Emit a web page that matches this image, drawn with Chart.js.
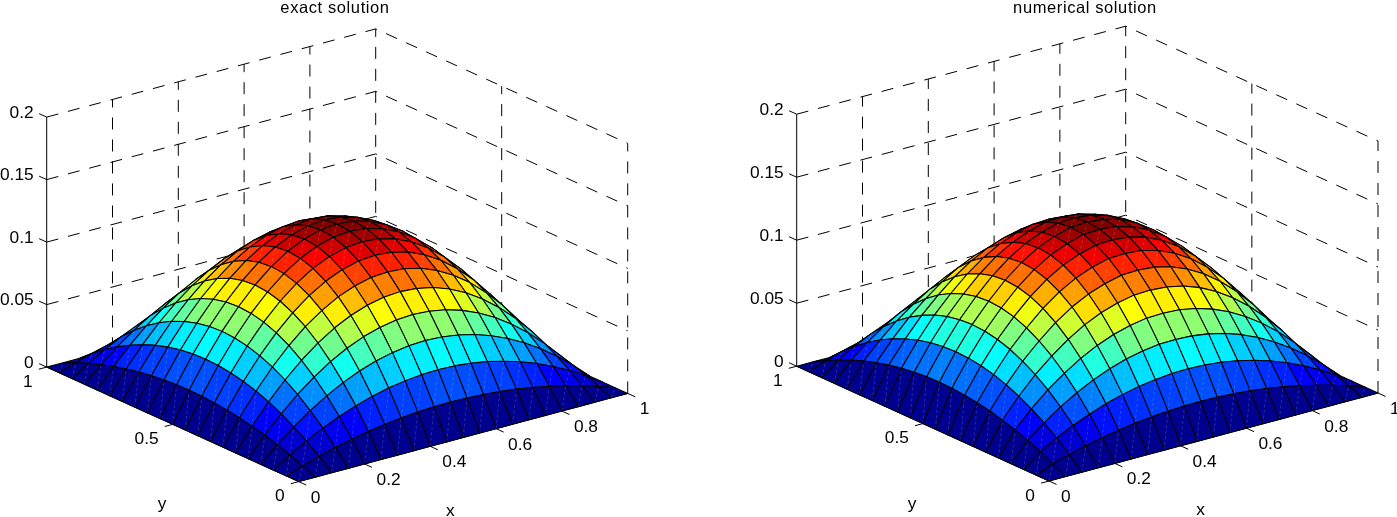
<!DOCTYPE html>
<html><head><meta charset="utf-8">
<script src="https://cdn.jsdelivr.net/npm/chart.js@4"></script>
<style>html,body{margin:0;padding:0;background:#fff;overflow:hidden}canvas{position:absolute;top:0}</style>
</head><body>
<canvas id="left" width="698" height="517" style="left:0"></canvas>
<canvas id="right" width="699" height="517" style="left:698px"></canvas>
<script>
const gridX=[0,.05,.1,.15,.2,.25,.3,.35,.4,.45,.5,.55,.6,.65,.7,.75,.8,.85,.9,.95,1];
const gridY=[0,.05,.1,.15,.2,.25,.3,.35,.4,.45,.5,.55,.6,.65,.7,.75,.8,.85,.9,.95,1];
const zTicks=[0,.05,.1,.15,.2];
const xTicks=[0,.2,.4,.6,.8,1];
const yTicks=[0,.5,1];
const zExact=[
[0,0,0,0,0,0,0,0,0,0,0,0,0,0,0,0,0,0,0,0,0],
[0,.0045,.0086,.0121,.0152,.0178,.0200,.0216,.0228,.0235,.0238,.0235,.0228,.0216,.0200,.0178,.0152,.0121,.0086,.0045,0],
[0,.0086,.0162,.0230,.0288,.0338,.0378,.0410,.0432,.0446,.0450,.0446,.0432,.0410,.0378,.0338,.0288,.0230,.0162,.0086,0],
[0,.0121,.0230,.0325,.0408,.0478,.0536,.0580,.0612,.0631,.0638,.0631,.0612,.0580,.0536,.0478,.0408,.0325,.0230,.0121,0],
[0,.0152,.0288,.0408,.0512,.0600,.0672,.0728,.0768,.0792,.0800,.0792,.0768,.0728,.0672,.0600,.0512,.0408,.0288,.0152,0],
[0,.0178,.0338,.0478,.0600,.0703,.0788,.0853,.0900,.0928,.0938,.0928,.0900,.0853,.0788,.0703,.0600,.0478,.0338,.0178,0],
[0,.0200,.0378,.0536,.0672,.0788,.0882,.0956,.1008,.1040,.1050,.1040,.1008,.0956,.0882,.0788,.0672,.0536,.0378,.0200,0],
[0,.0216,.0410,.0580,.0728,.0853,.0956,.1035,.1092,.1126,.1138,.1126,.1092,.1035,.0956,.0853,.0728,.0580,.0410,.0216,0],
[0,.0228,.0432,.0612,.0768,.0900,.1008,.1092,.1152,.1188,.1200,.1188,.1152,.1092,.1008,.0900,.0768,.0612,.0432,.0228,0],
[0,.0235,.0446,.0631,.0792,.0928,.1040,.1126,.1188,.1225,.1238,.1225,.1188,.1126,.1040,.0928,.0792,.0631,.0446,.0235,0],
[0,.0238,.0450,.0638,.0800,.0938,.1050,.1138,.1200,.1238,.1250,.1238,.1200,.1138,.1050,.0938,.0800,.0638,.0450,.0238,0],
[0,.0235,.0446,.0631,.0792,.0928,.1040,.1126,.1188,.1225,.1238,.1225,.1188,.1126,.1040,.0928,.0792,.0631,.0446,.0235,0],
[0,.0228,.0432,.0612,.0768,.0900,.1008,.1092,.1152,.1188,.1200,.1188,.1152,.1092,.1008,.0900,.0768,.0612,.0432,.0228,0],
[0,.0216,.0410,.0580,.0728,.0853,.0956,.1035,.1092,.1126,.1138,.1126,.1092,.1035,.0956,.0853,.0728,.0580,.0410,.0216,0],
[0,.0200,.0378,.0536,.0672,.0788,.0882,.0956,.1008,.1040,.1050,.1040,.1008,.0956,.0882,.0788,.0672,.0536,.0378,.0200,0],
[0,.0178,.0338,.0478,.0600,.0703,.0788,.0853,.0900,.0928,.0938,.0928,.0900,.0853,.0788,.0703,.0600,.0478,.0338,.0178,0],
[0,.0152,.0288,.0408,.0512,.0600,.0672,.0728,.0768,.0792,.0800,.0792,.0768,.0728,.0672,.0600,.0512,.0408,.0288,.0152,0],
[0,.0121,.0230,.0325,.0408,.0478,.0536,.0580,.0612,.0631,.0638,.0631,.0612,.0580,.0536,.0478,.0408,.0325,.0230,.0121,0],
[0,.0086,.0162,.0230,.0288,.0338,.0378,.0410,.0432,.0446,.0450,.0446,.0432,.0410,.0378,.0338,.0288,.0230,.0162,.0086,0],
[0,.0045,.0086,.0121,.0152,.0178,.0200,.0216,.0228,.0235,.0238,.0235,.0228,.0216,.0200,.0178,.0152,.0121,.0086,.0045,0],
[0,0,0,0,0,0,0,0,0,0,0,0,0,0,0,0,0,0,0,0,0]];
const zNumerical=[
[0,0,0,0,0,0,0,0,0,0,0,0,0,0,0,0,0,0,0,0,0],
[0,.0056,.0095,.0129,.0158,.0183,.0203,.0219,.0229,.0236,.0238,.0235,.0228,.0216,.0200,.0178,.0152,.0121,.0086,.0045,0],
[0,.0106,.0180,.0245,.0299,.0347,.0385,.0414,.0434,.0448,.0450,.0446,.0432,.0410,.0378,.0338,.0288,.0230,.0162,.0086,0],
[0,.0150,.0255,.0347,.0424,.0491,.0545,.0587,.0615,.0634,.0638,.0631,.0612,.0580,.0536,.0478,.0408,.0325,.0230,.0121,0],
[0,.0188,.0320,.0436,.0532,.0616,.0684,.0736,.0772,.0796,.0800,.0792,.0768,.0728,.0672,.0600,.0512,.0408,.0288,.0152,0],
[0,.0220,.0375,.0511,.0623,.0722,.0802,.0863,.0905,.0933,.0938,.0928,.0900,.0853,.0788,.0703,.0600,.0478,.0338,.0178,0],
[0,.0247,.0420,.0572,.0698,.0809,.0898,.0966,.1013,.1045,.1050,.1040,.1008,.0956,.0882,.0788,.0672,.0536,.0378,.0200,0],
[0,.0267,.0455,.0620,.0756,.0876,.0973,.1047,.1098,.1132,.1138,.1126,.1092,.1035,.0956,.0853,.0728,.0580,.0410,.0216,0],
[0,.0282,.0480,.0654,.0798,.0924,.1026,.1104,.1158,.1194,.1200,.1188,.1152,.1092,.1008,.0900,.0768,.0612,.0432,.0228,0],
[0,.0291,.0495,.0674,.0823,.0953,.1058,.1139,.1194,.1231,.1238,.1225,.1188,.1126,.1040,.0928,.0792,.0631,.0446,.0235,0],
[0,.0294,.0500,.0681,.0831,.0963,.1069,.1150,.1206,.1244,.1250,.1238,.1200,.1138,.1050,.0938,.0800,.0638,.0450,.0238,0],
[0,.0291,.0495,.0674,.0823,.0953,.1058,.1139,.1194,.1231,.1238,.1225,.1188,.1126,.1040,.0928,.0792,.0631,.0446,.0235,0],
[0,.0282,.0480,.0654,.0798,.0924,.1026,.1104,.1158,.1194,.1200,.1188,.1152,.1092,.1008,.0900,.0768,.0612,.0432,.0228,0],
[0,.0267,.0455,.0620,.0756,.0876,.0973,.1047,.1098,.1132,.1138,.1126,.1092,.1035,.0956,.0853,.0728,.0580,.0410,.0216,0],
[0,.0247,.0420,.0572,.0698,.0809,.0898,.0966,.1013,.1045,.1050,.1040,.1008,.0956,.0882,.0788,.0672,.0536,.0378,.0200,0],
[0,.0220,.0375,.0511,.0623,.0722,.0802,.0863,.0905,.0933,.0938,.0928,.0900,.0853,.0788,.0703,.0600,.0478,.0338,.0178,0],
[0,.0188,.0320,.0436,.0532,.0616,.0684,.0736,.0772,.0796,.0800,.0792,.0768,.0728,.0672,.0600,.0512,.0408,.0288,.0152,0],
[0,.0150,.0255,.0347,.0424,.0491,.0545,.0587,.0615,.0634,.0638,.0631,.0612,.0580,.0536,.0478,.0408,.0325,.0230,.0121,0],
[0,.0106,.0180,.0245,.0299,.0347,.0385,.0414,.0434,.0448,.0450,.0446,.0432,.0410,.0378,.0338,.0288,.0230,.0162,.0086,0],
[0,.0056,.0095,.0129,.0158,.0183,.0203,.0219,.0229,.0236,.0238,.0235,.0228,.0216,.0200,.0178,.0152,.0121,.0086,.0045,0],
[0,0,0,0,0,0,0,0,0,0,0,0,0,0,0,0,0,0,0,0,0]];

const FONT='"Liberation Sans", Arial, sans-serif';
const TICK_PX=16.5, TITLE_PX=16.5;
const panels={};
function jet(t){const k=Math.min(63,Math.max(0,Math.floor(t*64)));const v=4*(k+1)/64;
  const c=a=>Math.round(255*Math.max(0,Math.min(1,a)));
  return `rgb(${c(Math.min(v-1.5,4.5-v))},${c(Math.min(v-.5,3.5-v))},${c(Math.min(v+.5,2.5-v))})`;}

const surfacePlugin={id:'surface',
 beforeDraw(chart){chart.ctx.letterSpacing='0.6px';},
 afterDatasetsDraw(chart){
  const o=panels[chart.canvas.id],ctx=chart.ctx,pts=chart.getDatasetMeta(0).data,nx=gridX.length,ny=gridY.length;
  const Z=o.Z,zmax=Math.max(...Z.flat());
  const P=(i,j)=>pts[j*nx+i];
  ctx.save();ctx.lineJoin='round';ctx.letterSpacing='0px';
  for(let i=nx-2;i>=0;i--)for(let j=ny-2;j>=0;j--){
    const a=P(i,j),b=P(i+1,j),c=P(i+1,j+1),d=P(i,j+1);
    ctx.beginPath();ctx.moveTo(a.x,a.y);ctx.lineTo(b.x,b.y);ctx.lineTo(c.x,c.y);ctx.lineTo(d.x,d.y);ctx.closePath();
    ctx.fillStyle=jet(Z[j][i]/zmax);ctx.fill();
    ctx.save();ctx.beginPath();ctx.moveTo(a.x,a.y);ctx.lineTo(c.x,c.y);ctx.setLineDash([3,2.5]);ctx.lineWidth=.6;ctx.strokeStyle='rgba(225,225,225,.33)';ctx.stroke();ctx.restore();
    ctx.beginPath();ctx.moveTo(a.x,a.y);ctx.lineTo(b.x,b.y);ctx.lineTo(c.x,c.y);ctx.lineTo(d.x,d.y);ctx.closePath();
    ctx.lineWidth=1.05;ctx.strokeStyle='#000';ctx.stroke();
  }
  const sx=chart.scales.x,sy=chart.scales.y,pr=o.project;
  const txt=(s,p,dx,dy,al)=>{ctx.save();ctx.translate(sx.getPixelForValue(p.x)+dx,sy.getPixelForValue(p.y)+dy);ctx.scale(1.05,1);ctx.textAlign=al;ctx.fillText(s,0,0);ctx.restore();};
  ctx.fillStyle='#000';ctx.textBaseline='middle';ctx.font=TICK_PX+'px '+FONT;
  zTicks.forEach(v=>txt(String(v),pr(0,1,v),-13,-4,'right'));
  xTicks.forEach(v=>txt(String(v),pr(v,0,0),12,16.5,'left'));
  yTicks.forEach(v=>txt(String(v),pr(0,v,0),-14,15,'right'));
  txt('x',pr(.47,0,0),-3,71,'center');
  txt('y',pr(0,.47,0),-18.3,77,'center');
  ctx.restore();
}};

function makePanel(id,title,Z,o){
  const project=(x,y,z)=>({x:o.fx+x*o.xdx+y*o.ydx,y:o.fy+x*o.xdy+y*o.ydy-z*o.zk});
  panels[id]={Z,project};
  const nodes=[];
  gridY.forEach((y,j)=>gridX.forEach((x,i)=>nodes.push(project(x,y,Z[j][i]))));
  const seg=(pts,solid)=>({data:pts,showLine:true,pointRadius:0,borderColor:'#000',backgroundColor:'#000',borderWidth:1,borderDash:solid?[]:[12,10],clip:false,fill:false,tension:0});
  const ds=[{data:nodes,showLine:false,pointRadius:0,clip:false}];
  const ztop=zTicks[zTicks.length-1],zmin=zTicks[0];
  zTicks.slice(1).forEach(v=>ds.push(seg([project(0,1,v),project(1,1,v),project(1,0,v)],false)));
  xTicks.slice(1).forEach(v=>ds.push(seg([project(v,1,zmin),project(v,1,ztop)],false)));
  yTicks.slice(0,-1).forEach(v=>ds.push(seg([project(1,v,zmin),project(1,v,ztop)],false)));
  ds.push(seg([project(0,1,zmin),project(0,1,ztop)],true));
  ds.push(seg([project(0,1,0),project(0,0,0),project(1,0,0)],true));
  zTicks.forEach(v=>ds.push(seg([project(0,1,v),project(0,1.03,v)],true)));
  xTicks.forEach(v=>ds.push(seg([project(v,0,0),project(v,-.03,0)],true)));
  yTicks.forEach(v=>ds.push(seg([project(0,v,0),project(-.024,v,0)],true)));
  return new Chart(document.getElementById(id),{type:'scatter',data:{datasets:ds},plugins:[surfacePlugin],options:{
    responsive:false,animation:false,events:[],
    layout:{padding:{left:o.padL,right:o.padR,top:0,bottom:0}},
    scales:{x:{type:'linear',display:false,min:o.xmin,max:o.xmax},y:{type:'linear',display:false,reverse:true,min:TITLE_PX,max:517}},
    plugins:{legend:{display:false},tooltip:{enabled:false},
      title:{display:true,text:title,fullSize:false,color:'#000',padding:0,font:{family:FONT,size:TITLE_PX,weight:'normal',lineHeight:1}}}
  }});
}
makePanel('left','exact solution',zExact,{padL:0,padR:28,xmin:0,xmax:670,fx:298.7,fy:481.6,xdx:329,xdy:-88.2,ydx:-252,ydy:-114.5,zk:1250});
makePanel('right','numerical solution',zNumerical,{padL:75,padR:0,xmin:773,xmax:1397,fx:1049,fy:481,xdx:329,xdy:-88,ydx:-252.3,ydy:-114.8,zk:1260});
</script>
</body></html>
